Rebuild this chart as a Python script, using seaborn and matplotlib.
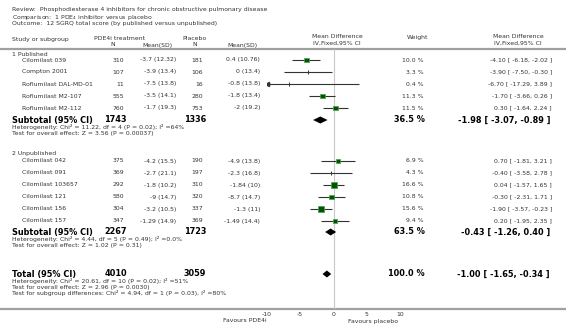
#Forest plot: SGRQ total score, PDE4 inhibitor vs placebo

import numpy as np
import pandas as pd
import matplotlib.pyplot as plt
import seaborn as sns

sns.set_style("white")
plt.rcParams["font.family"] = ["DejaVu Sans"]

#data
group_labels = ["1 Published", "2 Unpublished"]

pub_names = ["Cilomilast 039", "Compton 2001", "Roflumilast DAL-MD-01",
             "Roflumilast M2-107", "Roflumilast M2-112"]
pub_n_trt = [310, 107, 11, 555, 760]
pub_mean_trt = [-3.7, -3.9, -7.5, -3.5, -1.7]
pub_sd_trt = [12.32, 13.4, 13.8, 14.1, 19.3]
pub_n_pbo = [181, 106, 16, 280, 753]
pub_mean_pbo = [0.4, 0, -0.8, -1.8, -2]
pub_sd_pbo = [10.76, 13.4, 13.8, 13.4, 19.2]
pub_weight = [10.0, 3.3, 0.4, 11.3, 11.5]
pub_md = [-4.10, -3.90, -6.70, -1.70, 0.30]
pub_lo = [-6.18, -7.50, -17.29, -3.66, -1.64]
pub_hi = [-2.02, -0.30, 3.89, 0.26, 2.24]

unp_names = ["Cilomilast 042", "Cilomilast 091", "Cilomilast 103657",
             "Cilomilast 121", "Cilomilast 156", "Cilomilast 157"]
unp_n_trt = [375, 369, 292, 580, 304, 347]
unp_mean_trt = [-4.2, -2.7, -1.8, -9, -3.2, -1.29]
unp_sd_trt = [15.5, 21.1, 10.2, 14.7, 10.5, 14.9]
unp_n_pbo = [190, 197, 310, 320, 337, 369]
unp_mean_pbo = [-4.9, -2.3, -1.84, -8.7, -1.3, -1.49]
unp_sd_pbo = [13.8, 16.8, 10, 14.7, 11, 14.4]
unp_weight = [6.9, 4.3, 16.6, 10.8, 15.6, 9.4]
unp_md = [0.70, -0.40, 0.04, -0.30, -1.90, 0.20]
unp_lo = [-1.81, -3.58, -1.57, -2.31, -3.57, -1.95]
unp_hi = [3.21, 2.78, 1.65, 1.71, -0.23, 2.35]

# subtotals: published, unpublished, total
sum_labels = ["Subtotal (95% CI)", "Subtotal (95% CI)", "Total (95% CI)"]
sum_n_trt = [1743, 2267, 4010]
sum_n_pbo = [1336, 1723, 3059]
sum_weight = [36.5, 63.5, 100.0]
sum_md = [-1.98, -0.43, -1.00]
sum_lo = [-3.07, -1.26, -1.65]
sum_hi = [-0.89, 0.40, -0.34]
sum_notes = [
    ["Heterogeneity: Chi\u00b2 = 11.22, df = 4 (P = 0.02); I\u00b2 =64%",
     "Test for overall effect: Z = 3.56 (P = 0.00037)"],
    ["Heterogeneity: Chi\u00b2 = 4.44, df = 5 (P = 0.49); I\u00b2 =0.0%",
     "Test for overall effect: Z = 1.02 (P = 0.31)"],
    ["Heterogeneity: Chi\u00b2 = 20.61, df = 10 (P = 0.02); I\u00b2 =51%",
     "Test for overall effect: Z = 2.96 (P = 0.0030)",
     "Test for subgroup differences: Chi\u00b2 = 4.94, df = 1 (P = 0.03), I\u00b2 =80%"],
]

#layout (pixel rows)
group_y = [54, 154]
pub_y = [60, 72, 84, 96, 108]
unp_y = [161, 173, 185, 197, 209, 221]
sum_y = [120, 232, 274]

studies = pd.DataFrame({
    "name": pub_names + unp_names,
    "n_trt": pub_n_trt + unp_n_trt,
    "mean_trt": pub_mean_trt + unp_mean_trt,
    "sd_trt": pub_sd_trt + unp_sd_trt,
    "n_pbo": pub_n_pbo + unp_n_pbo,
    "mean_pbo": pub_mean_pbo + unp_mean_pbo,
    "sd_pbo": pub_sd_pbo + unp_sd_pbo,
    "weight": pub_weight + unp_weight,
    "md": pub_md + unp_md,
    "lo": pub_lo + unp_lo,
    "hi": pub_hi + unp_hi,
    "y": pub_y + unp_y,
})

txt = "#333333"
small = 4.4
big = 5.9

fig = plt.figure(figsize=(5.66, 3.32), dpi=100)
bg = fig.add_axes([0, 0, 1, 1])
bg.set_xlim(0, 566)
bg.set_ylim(332, 0)
bg.axis("off")

#titles
bg.text(12, 10, "Review:  Phosphodiesterase 4 inhibitors for chronic obstructive pulmonary disease",
        fontsize=small, color=txt, va="center")
bg.text(12, 17, "Comparison:  1 PDE$_4$ inhibitor versus placebo", fontsize=small, color=txt, va="center")
bg.text(12, 24, "Outcome:  12 SGRQ total score (by published versus unpublished)",
        fontsize=small, color=txt, va="center")

#headers
bg.text(12, 39, "Study or subgroup", fontsize=small, color=txt, va="center")
bg.text(94, 39, "PDE4i treatment", fontsize=small, color=txt, va="center")
bg.text(113, 45, "N", fontsize=small, color=txt, va="center", ha="center")
bg.text(142, 45, "Mean(SD)", fontsize=small, color=txt, va="center")
bg.text(182, 39, "Placebo", fontsize=small, color=txt, va="center")
bg.text(195, 45, "N", fontsize=small, color=txt, va="center", ha="center")
bg.text(227, 45, "Mean(SD)", fontsize=small, color=txt, va="center")
bg.text(337, 37, "Mean Difference", fontsize=small, color=txt, va="center", ha="center")
bg.text(337, 43, "IV,Fixed,95% CI", fontsize=small, color=txt, va="center", ha="center")
bg.text(418, 37, "Weight", fontsize=small, color=txt, va="center", ha="center")
bg.text(518, 37, "Mean Difference", fontsize=small, color=txt, va="center", ha="center")
bg.text(518, 43, "IV,Fixed,95% CI", fontsize=small, color=txt, va="center", ha="center")

bg.axhline(49, color="#a0a0a0", lw=1.6)
bg.axhline(309, color="#a0a0a0", lw=1.6)

for lab, gy in zip(group_labels, group_y):
    bg.text(12, gy, lab, fontsize=small, color=txt, va="center")

#study rows
for _, r in studies.iterrows():
    y = r["y"]
    bg.text(22, y, r["name"], fontsize=small, color=txt, va="center")
    bg.text(124, y, f"{r['n_trt']:g}", fontsize=small, color=txt, va="center", ha="right")
    bg.text(176, y, f"{r['mean_trt']:g} ({r['sd_trt']:g})", fontsize=small, color=txt, va="center", ha="right")
    bg.text(203, y, f"{r['n_pbo']:g}", fontsize=small, color=txt, va="center", ha="right")
    bg.text(260, y, f"{r['mean_pbo']:g} ({r['sd_pbo']:g})", fontsize=small, color=txt, va="center", ha="right")
    bg.text(424, y, f"{r['weight']:.1f} %", fontsize=small, color=txt, va="center", ha="right")
    bg.text(552, y, f"{r['md']:.2f} [ {r['lo']:.2f}, {r['hi']:.2f} ]",
            fontsize=small, color=txt, va="center", ha="right")

#subtotal rows
for i, y in enumerate(sum_y):
    bg.text(12, y, sum_labels[i], fontsize=big, fontweight="bold", color="black", va="center")
    bg.text(127, y, f"{sum_n_trt[i]}", fontsize=big, fontweight="bold", color="black", va="center", ha="right")
    bg.text(206, y, f"{sum_n_pbo[i]}", fontsize=big, fontweight="bold", color="black", va="center", ha="right")
    bg.text(425, y, f"{sum_weight[i]:.1f} %", fontsize=big, fontweight="bold", color="black", va="center", ha="right")
    bg.text(550, y, f"{sum_md[i]:.2f} [ {sum_lo[i]:.2f}, {sum_hi[i]:.2f} ]",
            fontsize=big, fontweight="bold", color="black", va="center", ha="right")
    for k, note in enumerate(sum_notes[i]):
        bg.text(12, y + 7 + 6 * k, note, fontsize=small, color=txt, va="center")

#forest panel
ax = fig.add_axes([267 / 566, (332 - 309) / 332, 133 / 566, (309 - 49) / 332])
ax.patch.set_alpha(0)
ax.set_xlim(-10, 10)
ax.set_ylim(309, 49)
for s in ax.spines.values():
    s.set_visible(False)
ax.set_yticks([])
ax.set_xticks([-10, -5, 0, 5, 10])
ax.set_xticklabels(["-10", "-5", "0", "5", "10"])
ax.tick_params(axis="x", direction="in", length=2.5, width=0.6, color="#555555",
               labelsize=small, labelcolor=txt, pad=2)
ax.axvline(0, color="#c8c8c8", lw=0.8, zorder=0)

lo_c = studies["lo"].clip(-10, 10)
hi_c = studies["hi"].clip(-10, 10)
ax.hlines(studies["y"], lo_c, hi_c, color="#333333", lw=0.8)
cut = studies["lo"] < -10
ax.plot(lo_c[cut], studies.loc[cut, "y"], marker="<", ms=3, color="#333333", ls="none")

big_w = studies[studies["weight"] >= 5]
small_w = studies[studies["weight"] < 5]
sns.scatterplot(data=big_w, x="md", y="y", size="weight", sizes=(0, 18), size_norm=(0, 16.6),
                marker="s", color="#005500", edgecolor="#4c9f4c", linewidth=0.5,
                legend=False, ax=ax, zorder=3)
sns.scatterplot(data=small_w, x="md", y="y", marker="|", s=8, color="#333333",
                linewidth=0.7, legend=False, ax=ax, zorder=3)
ax.set_xlabel("")
ax.set_ylabel("")

#diamonds
for i, y in enumerate(sum_y):
    ax.fill([sum_lo[i], sum_md[i], sum_hi[i], sum_md[i]], [y, y - 3.5, y, y + 3.5],
            color="black", lw=0)

fig.text(267 / 566, 1 - 321 / 332, "Favours PDE4i", fontsize=small, color=txt, ha="right", va="center")
fig.text(348 / 566, 1 - 321 / 332, "Favours placebo", fontsize=small, color=txt, ha="left", va="center")

plt.savefig("out.png", dpi=100)
